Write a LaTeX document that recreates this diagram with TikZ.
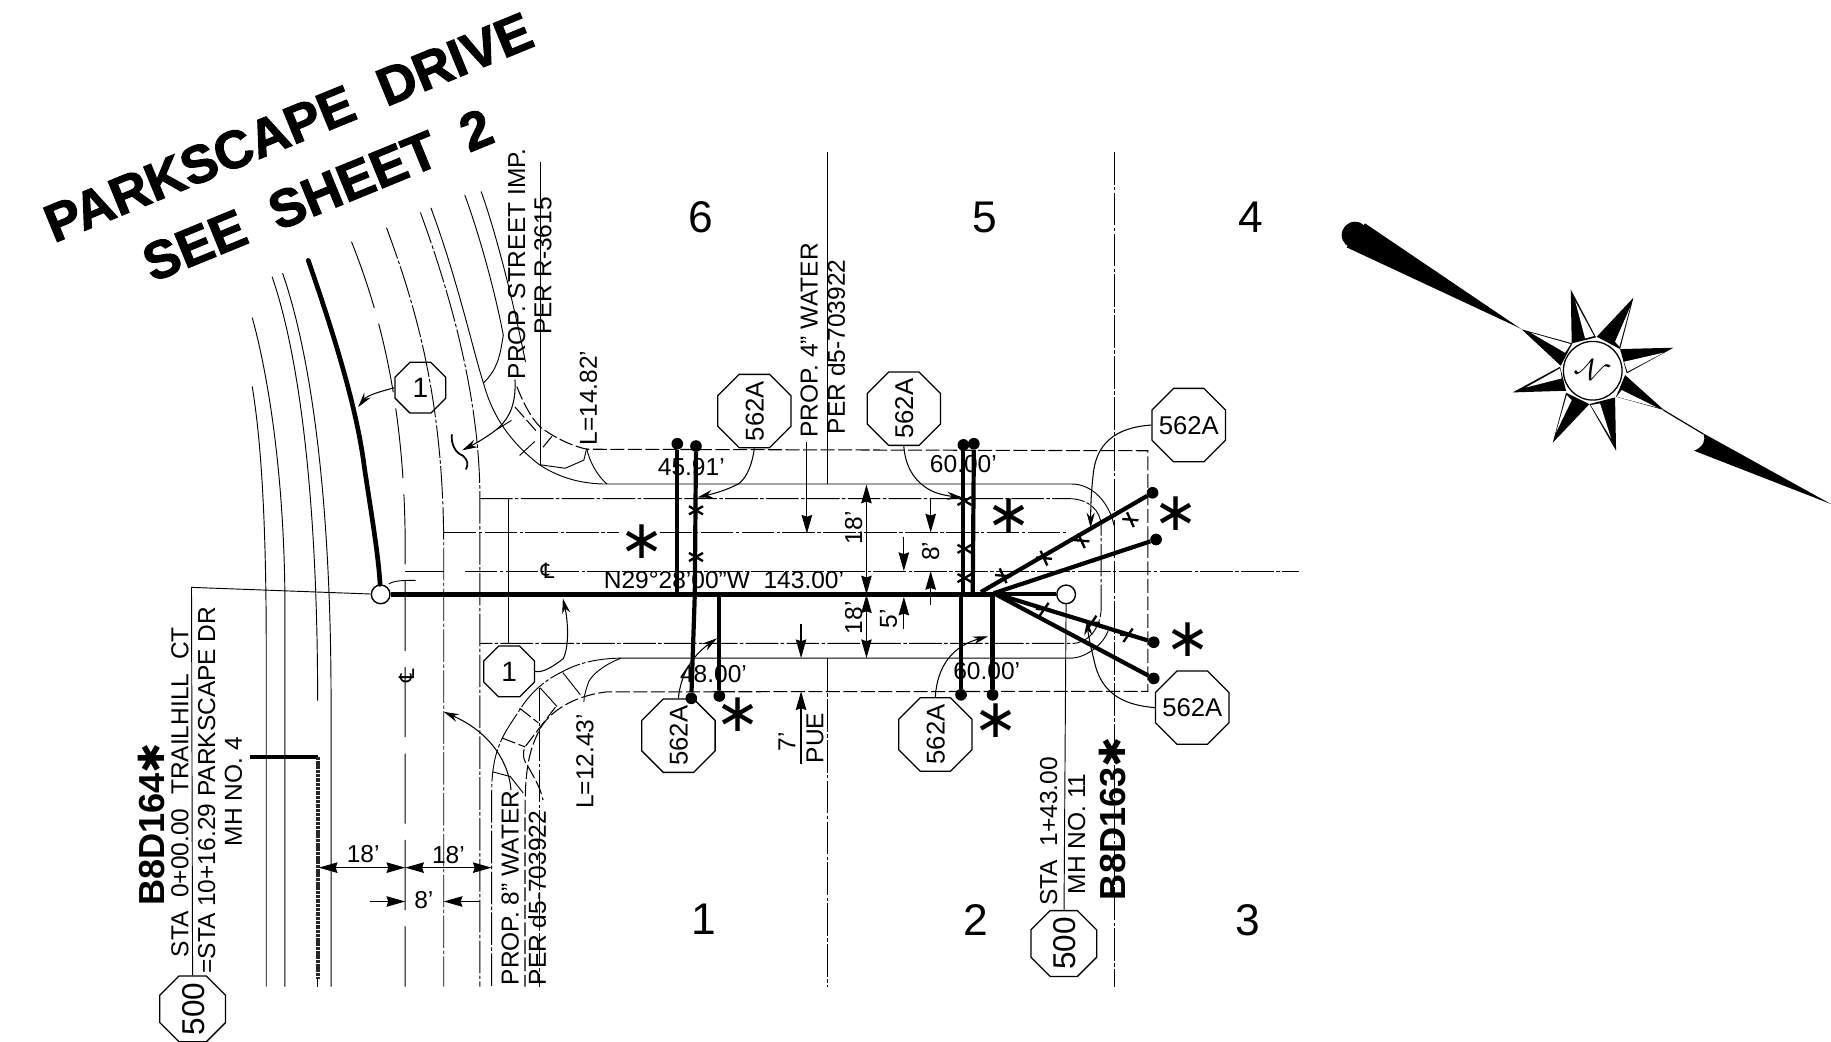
\documentclass[tikz,border=0pt]{standalone}
\usepackage{fontspec}
\usetikzlibrary{arrows.meta,shapes.geometric,shapes.misc}
\setmainfont{Liberation Sans}
\newfontfamily\symf{DejaVu Sans}
\newfontfamily\ttlf[BoldFeatures={FakeBold=2}]{Liberation Sans}
\newcommand{\ocx}[1]{\makebox[0pt]{\smash{\raisebox{-.36em}{#1}}}}
\newcommand{\rosepoint}[6]{\fill[black] #1--#2--#3--cycle; \fill[white] #4--#5--#6--cycle;}
\tikzset{
 thin line/.style={line width=.8pt},
 dd/.style={line width=.8pt,dash pattern=on 28pt off 2pt on 3pt off 2pt},
 dsh/.style={line width=.9pt,dash pattern=on 12pt off 3pt},
 gap/.style={line width=.8pt,dash pattern=on 60pt off 14pt},
 svc/.style={line width=3.6pt},
 leader/.style={line width=.9pt,-{Stealth[length=13pt,width=7pt]}},
 dim/.style={line width=1pt,-{Stealth[length=16pt,width=9pt,inset=1.5pt]}},
 dimb/.style={line width=1pt,{Stealth[length=16pt,width=9pt,inset=1.5pt]}-{Stealth[length=16pt,width=9pt,inset=1.5pt]}},
 octs/.style={draw,line width=1.1pt,regular polygon,regular polygon sides=8,inner sep=0pt,minimum size=#1},
 dot/.style={circle,fill=black,inner sep=0pt,minimum size=10pt},
 mh/.style={circle,draw,fill=white,line width=1.2pt,inner sep=0pt,minimum size=16pt},
 lab/.style={font=\fontsize{21}{21}\selectfont,inner sep=0pt},
 vlab/.style={lab,rotate=90},
 big/.style={font=\fontsize{38}{38}\selectfont,inner sep=0pt},
 title/.style={font=\fontsize{45.5}{45.5}\selectfont\ttlf\bfseries,inner sep=0pt,rotate=22.3},
 hand/.style={font=\fontsize{31}{31}\selectfont\bfseries,inner sep=0pt,rotate=90},
 star/.style={font=\fontsize{46}{46}\selectfont\symf,inner sep=0pt},
 tickx/.style={cross out,draw,line width=2pt,inner sep=0pt,minimum width=10pt,minimum height=5pt},
}
\begin{document}
\begin{tikzpicture}[x=1pt,y=-1pt]
\useasboundingbox (0,0) rectangle (1568,891.5);
% titles
\node[title] (t1) at (247,109) {PARKSCAPE\ \ DRIVE};
\node[title] (t2) at (272,167) {SEE\ \ SHEET\ \ 2};
% west street curves
\draw[thin line] (216,331) .. controls (224,380) and (228,450) .. (228,557) -- (228,845);
\draw[thin line] (216,272) .. controls (232,330) and (244,420) .. (244,520) -- (244,845);
\draw[thin line] (233,237) .. controls (255,300) and (272,420) .. (272,600);
\draw[thin line] (242,234) .. controls (265,300) and (283.5,420) .. (283.5,600) -- (283.5,845);
\draw[gap] (301,207) .. controls (322,260) and (347,340) .. (347,470) -- (347,845);
\draw[dd] (331,195) .. controls (355,260) and (380,340) .. (380,470) -- (380,845);
\draw[dd] (360,182) .. controls (385,250) and (411,340) .. (411,427) -- (411,845);
\draw[thin line] (369,178) .. controls (392,240) and (405,300) .. (414,328) .. controls (420,350) and (432,375) .. (462,398) .. controls (480,410) and (500,414.5) .. (519.5,414.5) -- (918,414.5) .. controls (935,414.5) and (950,430) .. (954,450);
\draw[thin line] (398,167) .. controls (412,205) and (425,255) .. (431,287);
\draw[thin line] (431,287) .. controls (428,306) and (426,316) .. (414,328);
\draw[thin line] (412,164) .. controls (425,200) and (440,260) .. (450,310);
% upper return details
\draw[dsh] (442.6,331) .. controls (448,345) and (455,358) .. (462.5,365.6) .. controls (475,375) and (490,382) .. (502.7,384.7) -- (983,386) -- (983,592) -- (519.6,592.5) .. controls (490,596) and (470,610) .. (462,625) .. controls (452,645) and (449.6,660) .. (449.6,700) -- (449.6,845);
\draw[dsh] (441,348.5) -- (460,370);
\draw[thin line] (425,368) -- (438,360);
\draw[thin line] (445,390) -- (458,378);
\draw[dsh] (465,383) -- (474,372);
\draw[thin line] (519.8,414.5) .. controls (512,408) and (505,396) .. (502.4,384);
\draw[thin line] (462.5,398) -- (484,401) -- (500,394) -- (502.4,384);
% verticals and road lines
\draw[thin line] (462.5,139) -- (462.5,398);
\draw[dd] (462,589) -- (462,845);
\draw[thin line] (709,130) -- (709,414.5);
\draw[dd] (709,563.6) -- (709,845);
\draw[dd] (954,130) -- (954,845);
\draw[thin line] (435,427) -- (435,551);
\draw[dd] (411,427) -- (915,427) .. controls (932,427) and (943,437) .. (943,451) -- (943,522) .. controls (942,538) and (932,551) .. (918,551) -- (411,551);
\draw[dd] (380,456) -- (530,456);
\draw[dd] (565,456) -- (915,456);
\draw[thin line] (347,489.5) -- (380,489.5);
\draw[dd] (398,489.5) -- (1112,489.5);
\draw[thin line] (531,563.6) -- (918,563.6) .. controls (930,563) and (945,552) .. (949,540);
% south-west corner
\draw[dd] (531,563.6) .. controls (510,564) and (495,568) .. (482,575) .. controls (465,583) and (453,595) .. (445,608) .. controls (432,628) and (421,640) .. (421,680) -- (421,845);
\draw[thin line] (482,576) -- (497,595);
\draw[thin line] (462.5,589) -- (477,605);
\draw[dsh] (445,606.5) -- (461,619);
\draw[dsh] (430,632) -- (449.6,639.6);
\draw[thin line] (422,661) -- (437,665) -- (448,679);
\draw[thin line] (532,563.6) .. controls (520,568) and (508,576) .. (504,584) .. controls (502,590) and (500,596) .. (500,601);
\draw[dsh] (475.6,605.6) -- (449.6,639.6) .. controls (447,645) and (448,651) .. (452.5,657) .. controls (457,665) and (463,675) .. (465,685);
% wiggle
\draw[line width=1.5pt] (387,372) .. controls (386,380) and (390,388) .. (396,390) .. controls (401,394) and (401,398) .. (399,402);
% main line, leaders
\node[mh] (mha) at (326,509) {};
\node[mh] (mhb) at (913,509) {};
\node[octs=47pt] (c1a) at (360,332) {\fontsize{24}{24}\selectfont\ocx{1}};
\node[octs=47pt] (c1b) at (436,575) {\fontsize{24}{24}\selectfont\ocx{1}};
\node[octs=68pt,rotate=90] (a1) at (646,352) {\fontsize{22}{22}\selectfont\ocx{562A}};
\node[octs=68pt,rotate=90] (a2) at (774,350) {\fontsize{22}{22}\selectfont\ocx{562A}};
\node[octs=68pt] (a3) at (1018,364) {\fontsize{22}{22}\selectfont\ocx{562A}};
\node[octs=68pt,rotate=90] (a4) at (581,630) {\fontsize{22}{22}\selectfont\ocx{562A}};
\node[octs=68pt,rotate=90] (a5) at (801,629) {\fontsize{22}{22}\selectfont\ocx{562A}};
\node[octs=68pt] (a6) at (1021,606) {\fontsize{22}{22}\selectfont\ocx{562A}};
\node[octs=61pt,rotate=90] (b1) at (165,864) {\fontsize{27}{27}\selectfont\ocx{500}};
\node[octs=61pt,rotate=90] (b2) at (911,808) {\fontsize{27}{27}\selectfont\ocx{500}};
% thick curve and main line
\coordinate (thtop) at (264,223);
\draw[line width=4pt,line cap=round] (thtop) .. controls (283,278) and (305,345) .. (312,400) .. controls (318,440) and (324,475) .. (mha);
\draw[line width=4pt] (mha) -- (849,509);
\draw[line width=3.4pt] (849,509) -- (mhb);
\draw[thin line] (333,500) .. controls (338,497) and (346,497) .. (356,497);
\draw[thin line] (mha) -- (164,503) -- (b1);
\draw[thin line] (mhb) -- (b2);
% left thick vertical
\coordinate (kink) at (272,648);
\coordinate (kl) at (214,648);
\coordinate (kb) at (272,838);
\draw[line width=3.4pt] (kl) -- (kink);
\draw[line width=3.6pt,dash pattern=on 3pt off .7pt,black!85] (kink) -- (kb);
\draw[line width=.8pt] (272,838) -- (272,845);
% services
\node[dot] (d1) at (580,380) {};
\node[dot] (d2) at (596,382) {};
\node[dot] (d3) at (592,598) {};
\node[dot] (d4) at (616,596) {};
\node[dot] (d5) at (825,381) {};
\node[dot] (d6) at (834,380) {};
\node[dot] (d7) at (823,595) {};
\node[dot] (d8) at (850,595) {};
\node[dot] (d9) at (987,422) {};
\node[dot] (d10) at (990,462) {};
\node[dot] (d11) at (988,550) {};
\node[dot] (d12) at (988,581) {};
\coordinate (j1) at (580,509);
\coordinate (j2) at (595,509);
\coordinate (j3) at (616,509);
\coordinate (j5) at (825,509);
\coordinate (j6) at (833,509);
\coordinate (j7) at (823,509);
\coordinate (j8) at (850,509);
\coordinate (jf) at (840,507);
\coordinate (jg) at (851,508);
\draw[svc] (d1) -- (j1);
\draw[svc] (d2) -- (j2) -- (d3);
\draw[svc] (j3) -- (d4);
\draw[svc] (d5) -- (j5);
\draw[svc] (d6) -- (j6);
\draw[svc] (j7) -- (d7);
\draw[svc] (j8) -- (d8);
\draw[svc] (jf) -- (d9);
\draw[svc] (jg) -- (d10);
\draw[svc] (jg) -- (d11);
\draw[svc] (jg) -- (d12);
\foreach \n/\p/\r in {x1/{(596,437)}/0,x2/{(596,477)}/0,x3/{(826,429)}/0,x4/{(826,470)}/0,x5/{(826,495)}/0,x6/{(859,493)}/-35,x7/{(894,478)}/-35,x8/{(926,463)}/-35,x9/{(968,445)}/-35,x10/{(894,522)}/25,x11/{(935,533)}/25,x12/{(966,544)}/25}
  \node[tickx,rotate=\r] (\n) at \p {};
% leaders
\coordinate (l1) at (306.7,348.6);
\draw[leader] (c1a.west) .. controls (327,335) and (315,338) .. (l1);
\coordinate (l2) at (482,512.5);
\draw[leader] (c1b.east) .. controls (465,576) and (472,572) .. (482.4,564) .. controls (488,552) and (486,530) .. (l2);
\coordinate (l3) at (597.3,426);
\draw[leader] (a1.west) .. controls (644,398) and (640,408) .. (633,414) .. controls (622,420) and (610,423) .. (l3);
\coordinate (l4) at (824,426);
\draw[leader] (a2.west) .. controls (775,398) and (782,412) .. (797,420) .. controls (805,424) and (815,425) .. (l4);
\coordinate (l5) at (934,452);
\draw[leader] (a3.west) .. controls (955,366) and (938,380) .. (936,408) .. controls (934,425) and (934,440) .. (l5);
\coordinate (l6) at (931,531);
\draw[leader] (a6.west) .. controls (965,604) and (945,596) .. (938,570) .. controls (935,558) and (932,545) .. (l6);
\coordinate (l7) at (846,545);
\draw[leader] (a5.east) .. controls (802,578) and (810,555) .. (l7);
\coordinate (l8) at (614,546.6);
\draw[leader] (a4.east) .. controls (582,585) and (588,565) .. (l8);
\coordinate (l9) at (395.8,385.6);
\coordinate (s1) at (441,325);
\draw[leader] (s1) .. controls (442,345) and (437,358) .. (425,368) .. controls (416,375) and (405,381) .. (l9);
\coordinate (l10) at (380,609.6);
\coordinate (s2) at (437.6,676.5);
\draw[leader] (s2) .. controls (436,655) and (422,628) .. (l10);
% water arrow and dims
\coordinate (w1) at (691,378.6); \coordinate (w2) at (691,457);
\draw[dim] (w1) -- (w2);
\coordinate (e1) at (742,415); \coordinate (e2) at (742,509); \coordinate (e3) at (742,563.6);
\draw[dimb] (e1) -- (e2);
\draw[dimb] (e2) -- (e3);
\coordinate (f1) at (774,460); \coordinate (f2) at (774,489);
\coordinate (f3) at (774,539); \coordinate (f4) at (774,511);
\draw[dim] (f1) -- (f2);
\draw[dim] (f3) -- (f4);
\coordinate (g1) at (797,427); \coordinate (g2) at (797,456);
\coordinate (g3) at (797,518); \coordinate (g4) at (797,489);
\draw[dim] (g1) -- (g2);
\draw[dim] (g3) -- (g4);
\coordinate (h1) at (686,534); \coordinate (h2) at (686,563.6);
\coordinate (h3) at (686,654); \coordinate (h4) at (686,592);
\draw[dim] (h1) -- (h2);
\draw[dim] (h3) -- (h4);
\coordinate (m1) at (273,743); \coordinate (m2) at (347,743); \coordinate (m3) at (421,743);
\draw[dimb] (m1) -- (m2);
\draw[dimb] (m2) -- (m3);
\coordinate (n1) at (317,772); \coordinate (n2) at (347,772);
\coordinate (n3) at (411,772); \coordinate (n4) at (380,772);
\draw[dim] (n1) -- (n2);
\draw[dim] (n3) -- (n4);
% labels
\node[big] (n6) at (600,186) {6};
\node[big] (n55) at (843,186) {5};
\node[big] (n44) at (1071,186) {4};
\node[big] (n11) at (603,787) {1};
\node[big] (n22) at (836,788) {2};
\node[big] (n33) at (1069,788) {3};
\node[lab] (bear) at (620,497) {N29°28'00"W\ \ 143.00'};
\node[lab] (l45) at (592,400) {45.91'};
\node[lab] (l60a) at (825,397) {60.00'};
\node[lab] (l48) at (611,577) {48.00'};
\node[lab] (l60b) at (845,575) {60.00'};
\node[lab] (l18a) at (311,731) {18'};
\node[lab] (l18b) at (384,732) {18'};
\node[lab] (l8) at (363,771) {8'};
\node[vlab] (v18a) at (731,452) {18'};
\node[vlab] (v18b) at (731,529) {18'};
\node[vlab] (v5) at (761,530) {5'};
\node[vlab] (v8) at (797,472) {8'};
\node[vlab] (v7) at (674,635) {7'};
\node[vlab] (vpue) at (698,632) {PUE};
\node[vlab,anchor=west] (p1) at (442.5,325) {PROP. STREET IMP.};
\node[vlab,anchor=west] (p2) at (465,287) {PER R-3615};
\node[vlab,anchor=west] (p3) at (693,375) {PROP. 4" WATER};
\node[vlab,anchor=west] (p4) at (716,372) {PER d5-703922};
\node[vlab,anchor=west] (p5) at (437,844) {PROP. 8" WATER};
\node[vlab,anchor=west] (p6) at (460,844) {PER d5-703922};
\node[vlab] (ll1) at (504,341) {L=14.82'};
\node[vlab] (ll2) at (501,652) {L=12.43'};
\node[vlab,anchor=west] (s3) at (154,820) {STA\ \ 0+00.00\ \ TRAILHILL\ \ CT};
\node[vlab,anchor=west] (s4) at (177,834) {=STA 10+16.29 PARKSCAPE DR};
\node[vlab] (s5) at (200,678) {MH NO. 4};
\node[vlab,anchor=west] (s6) at (898,776) {STA\ \ 1+43.00};
\node[vlab,anchor=west] (s7) at (922,766) {MH NO. 11};
\node[hand,anchor=west] (hd1) at (130,776) {B8D164{\symf ✱}};
\node[hand,anchor=west] (hd2) at (953,771) {B8D163{\symf ✱}};
\node[star] (st1) at (550,464) {∗};
\node[star] (st2) at (864,442) {∗};
\node[star] (st3) at (1007,440) {∗};
\node[star] (st4) at (1017,548) {∗};
\node[star] (st5) at (632,612) {∗};
\node[star] (st6) at (853,617) {∗};
\node[font=\fontsize{18}{18}\selectfont\symf,inner sep=0pt] (cl1) at (469,489) {℄};
\node[font=\fontsize{18}{18}\selectfont\symf,inner sep=0pt,rotate=90] (cl2) at (348,579) {℄};
% compass
\begin{scope}[shift={(1130.4pt,-171.3pt)},x=.2855pt,y=-.2855pt]
\fill (105,105) circle [radius=40];
\fill (135,70) -- (605,388) -- (590,380) -- (80,142) -- cycle;
\rosepoint{(605,388)}{(722,497)}{(757,430)}{(632,398)}{(752,432)}{(735,458)}
\rosepoint{(752,268)}{(755,430)}{(828,412)}{(766,305)}{(822,408)}{(795,415)}
\rosepoint{(940,293)}{(830,410)}{(900,447)}{(930,322)}{(898,440)}{(885,425)}
\rosepoint{(1060,443)}{(900,447)}{(920,520)}{(1030,458)}{(922,515)}{(912,485)}
\rosepoint{(1032,630)}{(915,525)}{(888,590)}{(1010,622)}{(890,590)}{(905,570)}
\rosepoint{(888,752)}{(885,592)}{(808,612)}{(873,715)}{(812,615)}{(840,610)}
\rosepoint{(698,728)}{(808,612)}{(738,578)}{(708,697)}{(740,585)}{(755,600)}
\rosepoint{(578,577)}{(738,572)}{(720,500)}{(618,562)}{(720,505)}{(725,535)}
\draw[line width=1.1pt,fill=white] (818,512) circle [radius=88];
\draw[line width=1pt] (1030,630) -- (1150,702);
\fill (1150,700) .. controls (1158,720) and (1150,740) .. (1122,752) -- (1533,912) -- cycle;
\node[font=\fontsize{44}{44}\selectfont,inner sep=0pt,rotate=-28] (north) at (818,512) {$\mathcal{N}$};
\end{scope}
\end{tikzpicture}
\end{document}
